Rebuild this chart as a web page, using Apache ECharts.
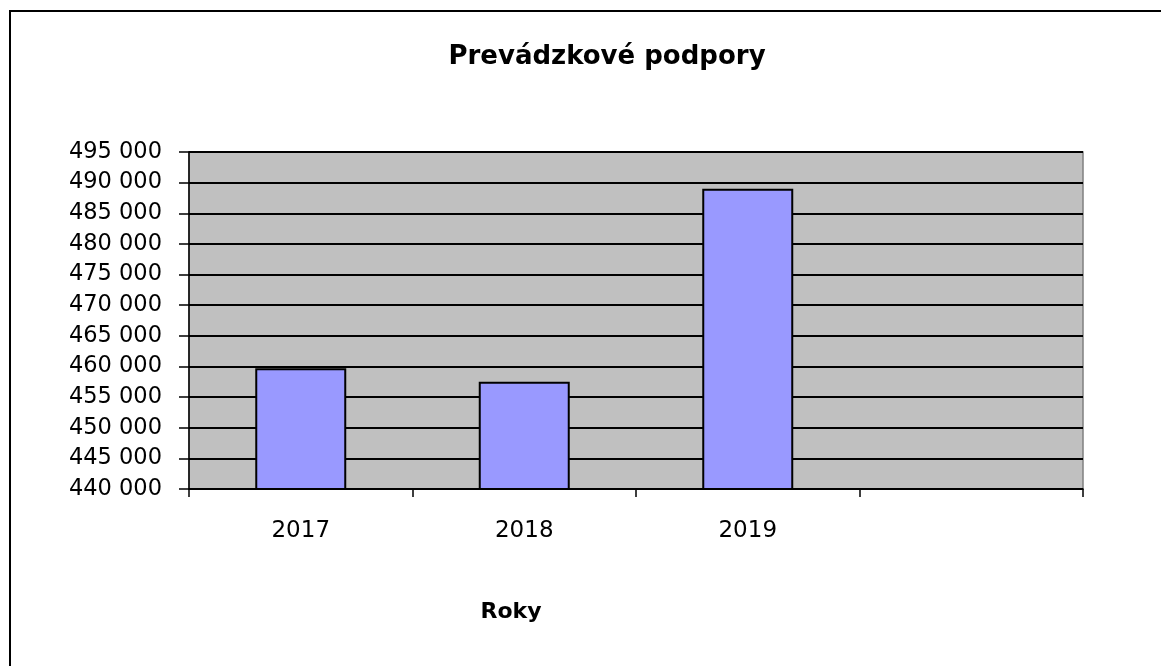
<!DOCTYPE html>
<html>
<head>
<meta charset="utf-8">
<script src="https://cdn.jsdelivr.net/npm/echarts@6/dist/echarts.min.js"></script>
<style>
html,body{margin:0;padding:0;background:#fff;}
#c{width:1161px;height:666px;}
</style>
</head>
<body>
<div id="c"></div>
<script>
const categories = ['2017', '2018', '2019', ''];
const values = [459700, 457500, 489000, null];
const titleText = 'Prevádzkové podpory';
const xAxisTitle = 'Roky';
const yMin = 440000, yMax = 495000, yStep = 5000;

function fmt(v){ return String(v).replace(/\B(?=(\d{3})+(?!\d))/g, ' '); }

const FONT = 'DejaVu Sans, Verdana, sans-serif';
const chart = echarts.init(document.getElementById('c'));
chart.setOption({
  animation: false,
  textStyle: { fontFamily: FONT },
  graphic: [
    { type: 'rect', shape: { x: 10, y: 11, width: 3000, height: 3000 }, style: { fill: 'none', stroke: '#000', lineWidth: 2 } },
    { type: 'text', x: 607, y: 57, style: { text: titleText, textAlign: 'center', textVerticalAlign: 'middle', font: 'bold 26px ' + FONT, fill: '#000' } },
    { type: 'text', x: 511, y: 612, style: { text: xAxisTitle, textAlign: 'center', textVerticalAlign: 'middle', font: 'bold 22px ' + FONT, fill: '#000' } }
  ],
  grid: { left: 189, right: 78, top: 152, bottom: 177, show: true, backgroundColor: '#c0c0c0', borderColor: '#808080', borderWidth: 1.5 },
  xAxis: {
    type: 'category', data: categories,
    axisLine: { lineStyle: { color: '#000', width: 1.5 } },
    axisTick: { show: true, length: 8, lineStyle: { color: '#000', width: 1.5 } },
    axisLabel: { color: '#000', fontSize: 23, margin: 31, fontFamily: FONT }
  },
  yAxis: {
    type: 'value', min: yMin, max: yMax, interval: yStep,
    axisLine: { show: true, lineStyle: { color: '#000', width: 1.5 } },
    axisTick: { show: true, length: 10, lineStyle: { color: '#000', width: 1.5 } },
    axisLabel: { color: '#000', fontSize: 22.5, margin: 27, formatter: fmt, fontFamily: FONT },
    splitLine: { lineStyle: { color: '#000', width: 2 } }
  },
  series: [{
    type: 'bar', data: values, barWidth: 91,
    itemStyle: { color: '#9999ff', borderColor: '#000', borderWidth: 2 }
  }]
});
</script>
</body>
</html>
